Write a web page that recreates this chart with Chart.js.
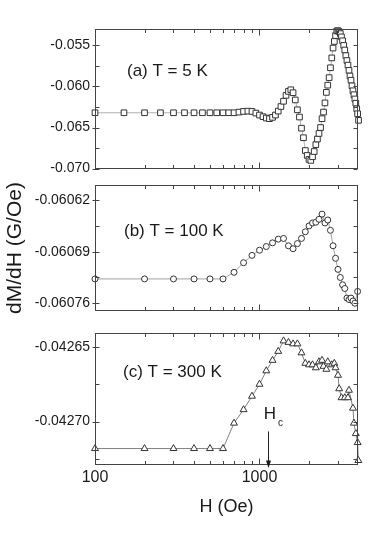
<!DOCTYPE html>
<html>
<head>
<meta charset="utf-8">
<script src="https://cdn.jsdelivr.net/npm/chart.js@4.4.0/dist/chart.umd.min.js"></script>
<style>
  body { margin: 0; background: #fff; }
  #wrap { position: relative; width: 385px; height: 554px; }
  #wrap canvas { position: absolute; left: 0; }
</style>
</head>
<body>
<div id="wrap">
  <canvas id="chartA" width="385" height="182" style="top:0px"></canvas>
  <canvas id="chartB" width="385" height="152" style="top:172px"></canvas>
  <canvas id="chartC" width="385" height="234" style="top:320px"></canvas>
</div>
<script>
// Field H (Oe) and dM/dH (G/Oe) for each temperature
const fieldA = [
  100, 150, 200, 250, 300, 350, 400, 450, 500, 550,
  600, 650, 700, 750, 800, 850, 900, 950, 1000, 1050,
  1100, 1150, 1200, 1250, 1300, 1350, 1400, 1450, 1500, 1550,
  1600, 1650, 1700, 1750, 1800, 1850, 1900, 1950, 2000, 2050,
  2100, 2150, 2200, 2250, 2300, 2350, 2400, 2450, 2500, 2550,
  2600, 2650, 2700, 2750, 2800, 2850, 2900, 2950, 3000, 3050,
  3100, 3150, 3200, 3250, 3300, 3350, 3400, 3450, 3500, 3550,
  3600, 3650, 3700, 3750, 3800, 3850, 3900, 3950, 4000
];
const dmdhA = [
  -0.0632, -0.0632, -0.0632, -0.0632, -0.0632, -0.0632, -0.0632, -0.0632, -0.0632, -0.0632,
  -0.0632, -0.0632, -0.0632, -0.06312, -0.06304, -0.0630, -0.06304, -0.06324, -0.06348, -0.06368,
  -0.06384, -0.06392, -0.06376, -0.06348, -0.0630, -0.06244, -0.0618, -0.06108, -0.0606, -0.0604,
  -0.06076, -0.06164, -0.06284, -0.06372, -0.06508, -0.06624, -0.0678, -0.0684, -0.06888, -0.0690,
  -0.06856, -0.06792, -0.06708, -0.0664, -0.06572, -0.0650, -0.06392, -0.06312, -0.0620, -0.06072,
  -0.05984, -0.05892, -0.05772, -0.05652, -0.05532, -0.05452, -0.0538, -0.05324, -0.0532, -0.05332,
  -0.05356, -0.05396, -0.05444, -0.0550, -0.05556, -0.05624, -0.05684, -0.0574, -0.05804, -0.05872,
  -0.05924, -0.05992, -0.06052, -0.0610, -0.06152, -0.06204, -0.06272, -0.06332, -0.06412
];

const fieldB = [
  100, 200, 300, 400, 500, 600, 700, 800, 900, 1000,
  1100, 1200, 1300, 1400, 1500, 1600, 1700, 1800, 1900, 2000,
  2100, 2200, 2300, 2400, 2500, 2600, 2700, 2800, 2900, 3000,
  3100, 3200, 3300, 3400, 3500, 3600, 3700, 3800, 3950
];
const dmdhB = [
  -0.060727, -0.060727, -0.060727, -0.060727, -0.060727, -0.060727, -0.060718, -0.060705, -0.060695, -0.060688,
  -0.060683, -0.060678, -0.060673, -0.060672, -0.060682, -0.060686, -0.060679, -0.060672, -0.060663, -0.060655,
  -0.060651, -0.060650, -0.060646, -0.060639, -0.060651, -0.060647, -0.060661, -0.060682, -0.060699, -0.060714,
  -0.060725, -0.060735, -0.060740, -0.060753, -0.060755, -0.060753, -0.060757, -0.060760, -0.060744
];

const fieldC = [
  100, 200, 300, 400, 500, 600, 700, 800, 900, 1000,
  1100, 1200, 1300, 1400, 1500, 1600, 1700, 1800, 1900, 2000,
  2100, 2200, 2300, 2400, 2450, 2550, 2600, 2750, 2850, 2900,
  3000, 3050, 3150, 3300, 3450, 3500, 3700, 3750, 3850, 3950, 3990
];
const dmdhC = [
  -0.042718, -0.042718, -0.042718, -0.042718, -0.042718, -0.042718, -0.042701, -0.042692, -0.042683, -0.042675,
  -0.042666, -0.042659, -0.042653, -0.042646, -0.042647, -0.042648, -0.042648, -0.042654, -0.042661, -0.042662,
  -0.042662, -0.042664, -0.042660, -0.042659, -0.042663, -0.042665, -0.042660, -0.042662, -0.042661, -0.042664,
  -0.042669, -0.042678, -0.042684, -0.042684, -0.042684, -0.042679, -0.042691, -0.042701, -0.042708, -0.042714, -0.042726
];

// Tick values
const xMajorTicks = [100, 1000];
const xMinorTicks = [200, 300, 400, 500, 600, 700, 800, 900, 2000, 3000];
const yTicksA = [-0.070, -0.065, -0.060, -0.055];
const yMinorA = [-0.0675, -0.0625, -0.0575];
const yTicksB = [-0.06076, -0.06069, -0.06062];
const yMinorB = [-0.060725, -0.060655];
const yTicksC = [-0.04270, -0.04265];
const yMinorC = [-0.042725, -0.042675];

// Coercive field marked in panel (c)
const hcField = 1130;

const FONT = "'Liberation Sans', Arial, Helvetica, sans-serif";
const INK = '#1a1a1a';

// Frame, inward ticks, panel caption and the Hc arrow
const framePlugin = {
  id: 'frame',
  afterDatasetsDraw(chart, args, opts) {
    const { ctx, chartArea: a, scales: { x, y } } = chart;
    ctx.save();
    ctx.strokeStyle = '#444';
    ctx.lineWidth = 1;
    const L = Math.round(a.left) + 0.5, R = Math.round(a.right) - 0.5;
    const T = Math.round(a.top) + 0.5, B = Math.round(a.bottom) - 0.5;
    ctx.strokeRect(L, T, R - L, B - T);

    ctx.beginPath();
    const xt = (v, len) => {
      const px = Math.round(x.getPixelForValue(v)) + 0.5;
      ctx.moveTo(px, T); ctx.lineTo(px, T + len);
      ctx.moveTo(px, B); ctx.lineTo(px, B - len);
    };
    const yt = (v, len, out) => {
      const py = Math.round(y.getPixelForValue(v)) + 0.5;
      ctx.moveTo(L - out, py); ctx.lineTo(L + len, py);
      ctx.moveTo(R, py); ctx.lineTo(R - len, py);
    };
    xMajorTicks.forEach(v => xt(v, 6));
    xMinorTicks.forEach(v => xt(v, 3.5));
    opts.yMajor.forEach(v => yt(v, 4, 3));
    opts.yMinor.forEach(v => yt(v, 4, 0));
    ctx.stroke();

    ctx.fillStyle = INK;
    ctx.font = '17px ' + FONT;
    ctx.textAlign = 'left';
    ctx.textBaseline = 'middle';
    ctx.fillText(opts.label, a.left + opts.dx, a.top + opts.dy);

    if (opts.hc) {
      const hx = Math.round(x.getPixelForValue(hcField)) + 0.5;
      ctx.textBaseline = 'alphabetic';
      ctx.textAlign = 'center';
      ctx.font = '17px ' + FONT;
      ctx.fillText('H', hx + 1.5, a.top + 86);
      ctx.textAlign = 'left';
      ctx.font = '10px ' + FONT;
      ctx.fillText('c', hx + 9.5, a.top + 93);
      ctx.strokeStyle = '#222';
      ctx.beginPath();
      ctx.moveTo(hx, a.top + 98);
      ctx.lineTo(hx, a.top + 130);
      ctx.stroke();
      ctx.beginPath();
      ctx.moveTo(hx, a.top + 134.5);
      ctx.lineTo(hx - 2.5, a.top + 127);
      ctx.lineTo(hx + 2.5, a.top + 127);
      ctx.closePath();
      ctx.fill();
    }
    ctx.restore();
  }
};

function makePanel(id, p) {
  const ctx = document.getElementById(id).getContext('2d');
  const points = p.field.map((h, i) => ({ x: h, y: p.values[i] }));

  const config = {
    type: 'line',
    data: {
      datasets: [{
        data: points,
        borderColor: p.lineColor,
        borderWidth: 1,
        pointStyle: p.marker,
        pointRadius: p.radius,
        pointBorderColor: '#333',
        pointBackgroundColor: '#fff',
        pointBorderWidth: 1,
        tension: 0,
        clip: false
      }]
    },
    options: {
      responsive: false,
      animation: false,
      events: [],
      layout: { padding: { left: 0, right: 27, top: p.padTop, bottom: p.padBottom } },
      plugins: {
        legend: { display: false },
        tooltip: { enabled: false },
        frame: { yMajor: p.yTicks, yMinor: p.yMinor, label: p.label, dx: p.dx, dy: p.dy, hc: !!p.hc }
      },
      scales: {
        x: {
          type: 'logarithmic',
          min: 100,
          max: 3970,
          display: p.showX,
          afterBuildTicks: axis => { axis.ticks = xMajorTicks.map(v => ({ value: v })); },
          afterFit: axis => { axis.height = p.showX ? 89 : 0; },
          grid: { display: false, drawTicks: false },
          border: { display: false },
          ticks: {
            autoSkip: false,
            maxRotation: 0,
            padding: 3,
            color: INK,
            font: { family: FONT, size: 16 },
            callback: v => String(v)
          },
          title: {
            display: true,
            text: 'H (Oe)',
            color: INK,
            font: { family: FONT, size: 18 },
            padding: { top: 0, bottom: 36 }
          }
        },
        y: {
          min: p.yMin,
          max: p.yMax,
          afterBuildTicks: axis => { axis.ticks = p.yTicks.map(v => ({ value: v })); },
          afterFit: axis => { axis.width = 95; },
          grid: { display: false, drawTicks: false },
          border: { display: false },
          ticks: {
            autoSkip: false,
            padding: 5,
            color: INK,
            font: { family: FONT, size: 14 },
            callback: v => v.toFixed(p.digits)
          },
          title: {
            display: !!p.yTitle,
            text: 'dM/dH (G/Oe)',
            color: INK,
            font: { family: FONT, size: 21 },
            padding: { top: 3 }
          }
        }
      }
    },
    plugins: [framePlugin]
  };

  return new Chart(ctx, config);
}

makePanel('chartA', {
  field: fieldA, values: dmdhA, marker: 'rect', radius: 4, lineColor: '#b0b0b0',
  yMin: -0.070, yMax: -0.053, yTicks: yTicksA, yMinor: yMinorA, digits: 3,
  padTop: 29, padBottom: 11, showX: false,
  label: '(a) T = 5 K', dx: 32, dy: 42
});

makePanel('chartB', {
  field: fieldB, values: dmdhB, marker: 'circle', radius: 3, lineColor: '#a0a0a0',
  yMin: -0.06077, yMax: -0.06060, yTicks: yTicksB, yMinor: yMinorB, digits: 5,
  padTop: 5, padBottom: 6, showX: false, yTitle: true,
  label: '(b) T = 100 K', dx: 29, dy: 46
});

makePanel('chartC', {
  field: fieldC, values: dmdhC, marker: 'triangle', radius: 4, lineColor: '#808080',
  yMin: -0.042729, yMax: -0.042641, yTicks: yTicksC, yMinor: yMinorC, digits: 5,
  padTop: 4, padBottom: 0, showX: true, hc: true,
  label: '(c) T = 300 K', dx: 28, dy: 39
});
</script>
</body>
</html>
